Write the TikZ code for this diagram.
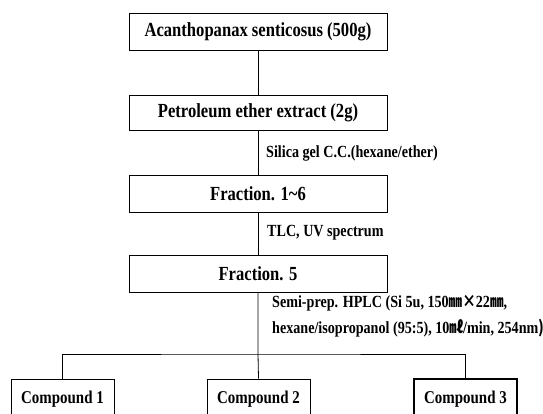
\documentclass[tikz,border=0pt]{standalone}
\usepackage{fontspec}
\setmainfont{Liberation Serif}[FakeStretch=0.83]
\newfontfamily\cjk{Noto Sans CJK KR}[FakeStretch=0.8]
\usetikzlibrary{positioning}

\begin{document}
\begin{tikzpicture}[
		x=1pt, y=-1pt,
		stage/.style={draw, line width=0.8pt, minimum width=258pt, minimum height=37pt, inner sep=0pt, font=\fontsize{20}{23}\selectfont\bfseries},
		cpd/.style={draw, line width=0.8pt, minimum width=103pt, minimum height=40pt, inner sep=0pt, font=\fontsize{18}{21}\selectfont\bfseries},
		step label/.style={anchor=west, inner sep=0pt, font=\fontsize{17}{20}\selectfont\bfseries},
		link/.style={line width=0.8pt}]
	%% page frame
	\useasboundingbox (0,0) rectangle (543,414);
	\clip (0,0) rectangle (543,414);
	%% extraction stages
	\node (plant) at (258,32) [stage] {Acanthopanax senticosus (500g)};
	\node (pet) at (258,112.5) [stage, minimum height=35pt] {Petroleum ether extract (2g)};
	\node (fr16) at (258,193.5) [stage] {Fraction. 1{\char"7E}6};
	\node (fr5) at (258,274) [stage] {Fraction. 5};
	%% isolated compounds
	\node (c1) at (62.5,399) [cpd] {Compound 1};
	\node (c2) at (258.5,399) [cpd] {Compound 2};
	\node (c3) at (465.5,399) [cpd, line width=2pt] {Compound 3};
	%% conditions
	\node (silica) at (266,153) [step label] {Silica gel C.C.(hexane/ether)};
	\node (tlc) at (267,233) [step label] {TLC, UV spectrum};
	\node (hplc1) at (272,303) [step label] {Semi-prep. HPLC (Si 5u, 150{\cjk ㎜}{\cjk ×}22{\cjk ㎜},};
	\node (hplc2) at (272,328) [step label] {hexane/isopropanol (95:5), 10{\cjk ㎖}/min, 254nm{\cjk )}};
	%% connectors
	\coordinate (split) at (258,354);
	\draw[link] (plant) -- (pet);
	\draw[link] (pet) -- (fr16);
	\draw[link] (fr16) -- (fr5);
	\draw[link] (fr5.south) -- (split) -- (c2.north);
	\draw[link] (c1.north) |- (split) -| (c3.north);
\end{tikzpicture}
\end{document}
